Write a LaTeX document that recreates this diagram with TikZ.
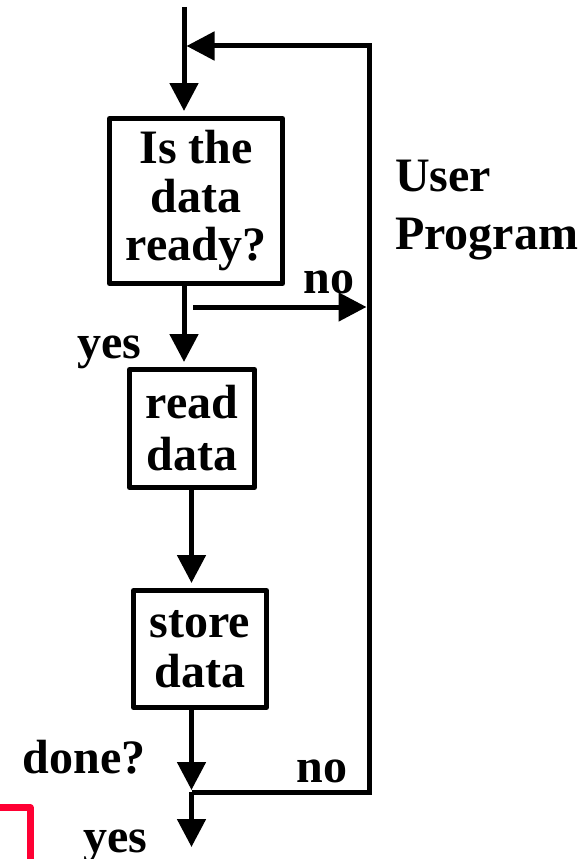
\documentclass[tikz,border=0pt]{standalone}
\usepackage{fontspec}
\setmainfont{Liberation Serif}
\usetikzlibrary{arrows.meta}
\definecolor{redmark}{RGB}{255,0,51}
\begin{document}
\begin{tikzpicture}[x=1pt,y=-1pt,
  box/.style={draw, line width=5pt, inner sep=0pt, align=center, line join=round},
  flow/.style={line width=5pt, -{Triangle[length=28pt,width=28pt]}},
  lbl/.style={anchor=base, inner sep=0pt, font=\fontsize{48}{50}\selectfont\bfseries},
]
\useasboundingbox (0,0) rectangle (588,859);
% boxes
\node[box, minimum width=173pt, minimum height=165pt, font=\fontsize{48}{48.5}\selectfont\bfseries] (ready) at (196,201) {Is the\\data\\ready?};
\node[box, minimum width=125pt, minimum height=118pt, font=\fontsize{48}{52}\selectfont\bfseries] (rd) at (192,428.5) {read\\data};
\node[box, minimum width=133pt, minimum height=117pt, font=\fontsize{48}{50}\selectfont\bfseries] (st) at (200,649) {store\\data};
% labels
\node[lbl] (no1) at (329,293) {no};
\node[lbl] (yes1) at (109,358) {yes};
\node[lbl] (done) at (84,773) {done?};
\node[lbl] (no2) at (322,782) {no};
\node[lbl] (yes2) at (115,852) {yes};
\node[anchor=north west, inner sep=0pt, align=left, font=\fontsize{48}{58}\selectfont\bfseries] (user) at (395,160) {User\\Program};
% coordinates
\coordinate (src) at (184,7);
\coordinate (rt) at (369,46);
\coordinate (rb) at (369,792);
\coordinate (jn) at (191.5,792);
\coordinate (out) at (191.5,847);
\coordinate (nos) at (193,307);
% connectors
\draw[flow, shorten >=5pt] (src) -- (src |- ready.north);
\draw[flow, shorten >=2.5pt] (jn) -- (rb) -- (rt) -- (src |- rt);
\draw[flow, shorten >=5pt] (ready.south -| src) -- (src |- rd.north);
\draw[flow, shorten >=2.5pt] (nos) -- (rb |- nos);
\draw[flow, shorten >=5pt] (rd.south -| jn) -- (jn |- st.north);
\draw[flow, shorten >=2pt] (st.south -| jn) -- (jn);
\draw[flow] (jn) -- (out);
% red mark
\coordinate (r1) at (-5,807.5);
\coordinate (r2) at (30,807.5);
\coordinate (r3) at (30,875);
\draw[redmark, line width=7pt, line join=round] (r1) -- (r2) -- (r3);
\end{tikzpicture}
\end{document}
